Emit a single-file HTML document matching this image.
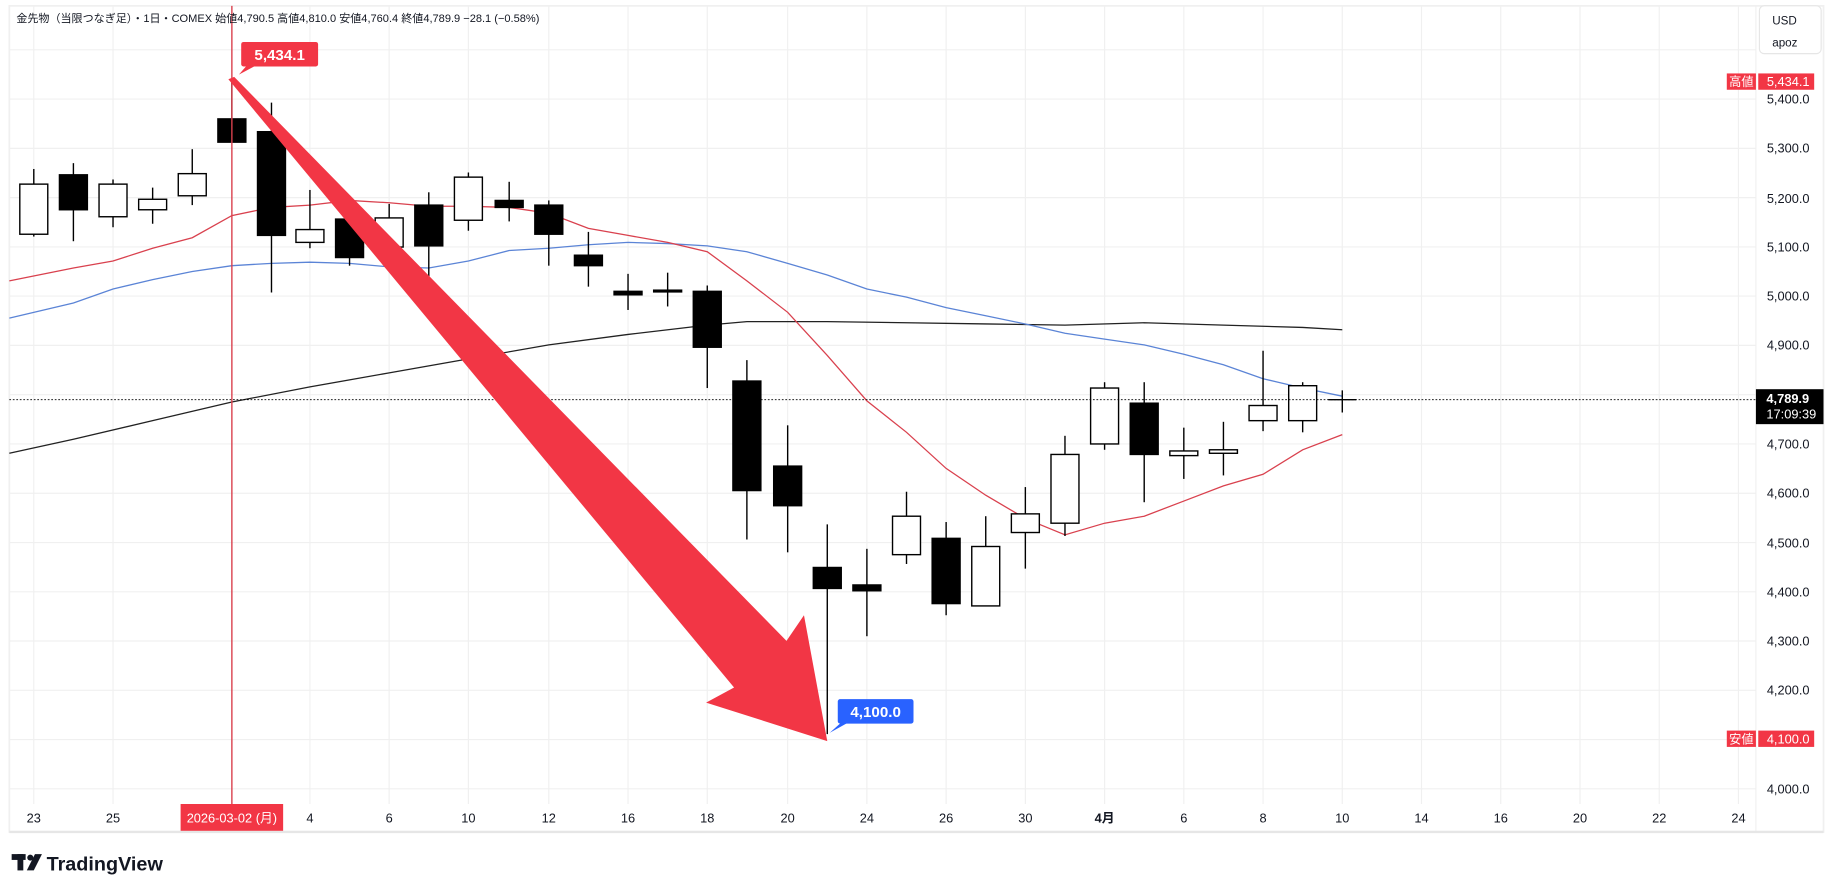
<!DOCTYPE html>
<html><head><meta charset="utf-8"><style>
html,body{margin:0;padding:0;background:#fff;width:1827px;height:892px;overflow:hidden}
svg{display:block}
text{font-family:"Liberation Sans","Noto Sans CJK JP",sans-serif}
</style></head><body>
<svg width="1827" height="892" viewBox="0 0 1568 765.5" xmlns="http://www.w3.org/2000/svg">
<rect x="0" y="0" width="1568" height="766" fill="#fff"/>
<rect x="8" y="5" width="1557" height="709" fill="none" stroke="#f0f0f0" stroke-width="1.5"/>
<g stroke="#f0f0f0" stroke-width="1">
<line x1="8" x2="1507" y1="42.7" y2="42.7"/><line x1="8" x2="1507" y1="85" y2="85"/><line x1="8" x2="1507" y1="127.3" y2="127.3"/><line x1="8" x2="1507" y1="169.6" y2="169.6"/><line x1="8" x2="1507" y1="211.9" y2="211.9"/><line x1="8" x2="1507" y1="254.1" y2="254.1"/><line x1="8" x2="1507" y1="296.4" y2="296.4"/><line x1="8" x2="1507" y1="338.7" y2="338.7"/><line x1="8" x2="1507" y1="381" y2="381"/><line x1="8" x2="1507" y1="423.3" y2="423.3"/><line x1="8" x2="1507" y1="465.6" y2="465.6"/><line x1="8" x2="1507" y1="507.9" y2="507.9"/><line x1="8" x2="1507" y1="550.1" y2="550.1"/><line x1="8" x2="1507" y1="592.4" y2="592.4"/><line x1="8" x2="1507" y1="634.7" y2="634.7"/><line x1="8" x2="1507" y1="677" y2="677"/>
<line y1="5" y2="690" x1="29" x2="29"/><line y1="5" y2="690" x1="97" x2="97"/><line y1="5" y2="690" x1="266" x2="266"/><line y1="5" y2="690" x1="334" x2="334"/><line y1="5" y2="690" x1="402" x2="402"/><line y1="5" y2="690" x1="471" x2="471"/><line y1="5" y2="690" x1="539" x2="539"/><line y1="5" y2="690" x1="607" x2="607"/><line y1="5" y2="690" x1="676" x2="676"/><line y1="5" y2="690" x1="744" x2="744"/><line y1="5" y2="690" x1="812" x2="812"/><line y1="5" y2="690" x1="880" x2="880"/><line y1="5" y2="690" x1="948" x2="948"/><line y1="5" y2="690" x1="1016" x2="1016"/><line y1="5" y2="690" x1="1084" x2="1084"/><line y1="5" y2="690" x1="1152" x2="1152"/><line y1="5" y2="690" x1="1220" x2="1220"/><line y1="5" y2="690" x1="1288" x2="1288"/><line y1="5" y2="690" x1="1356" x2="1356"/><line y1="5" y2="690" x1="1424" x2="1424"/><line y1="5" y2="690" x1="1492" x2="1492"/>
<line x1="1507" x2="1507" y1="5" y2="714"/>
</g>
<polyline fill="none" stroke="#222" stroke-width="1.1" points="8,389 63,377 131,361 199,345 266,332 334,320 402,308 471,296 539,287 607,279 641,276 710,276 778,277 846,278 914,279 982,277 1050,279 1118,281 1152,283"/>
<polyline fill="none" stroke="#5b84d6" stroke-width="1.1" points="8,273 63,260 97,248 131,240 165,233 199,228 233,226 266,225 300,226 334,229 368,230 402,224 437,215 471,213 505,210 539,208 573,209 607,211 641,216 676,226 710,236 744,248 778,255 812,264 846,271 880,278 914,286 948,291 982,296 1016,304 1050,313 1084,325 1118,333 1152,340"/>
<polyline fill="none" stroke="#d9414e" stroke-width="1.1" points="8,241 63,230 97,224 131,213 165,204 199,185 233,178 266,176 300,172 334,174 368,177 402,177 437,178 471,183 505,196 539,202 573,208 607,216 641,241 676,268 710,305 744,344 778,371 812,402 846,425 880,445 914,459 948,449 982,443 1016,430 1050,417 1084,407 1118,386 1152,373"/>
<g stroke="#000" stroke-width="1.2">
<line x1="29" x2="29" y1="145" y2="203"/><rect x="17" y="158" width="24" height="43" fill="#fff"/>
<line x1="63" x2="63" y1="140" y2="207"/><rect x="51" y="150" width="24" height="30" fill="#000"/>
<line x1="97" x2="97" y1="154" y2="195"/><rect x="85" y="158" width="24" height="28" fill="#fff"/>
<line x1="131" x2="131" y1="161" y2="192"/><rect x="119" y="171" width="24" height="9" fill="#fff"/>
<line x1="165" x2="165" y1="128" y2="176"/><rect x="153" y="149" width="24" height="19" fill="#fff"/>
<line x1="199" x2="199" y1="70" y2="122"/><rect x="187" y="102" width="24" height="20" fill="#000"/>
<line x1="233" x2="233" y1="88" y2="251"/><rect x="221" y="113" width="24" height="89" fill="#000"/>
<line x1="266" x2="266" y1="163" y2="213"/><rect x="254" y="197" width="24" height="11" fill="#fff"/>
<line x1="300" x2="300" y1="168" y2="228"/><rect x="288" y="188" width="24" height="33" fill="#000"/>
<line x1="334" x2="334" y1="175" y2="215"/><rect x="322" y="187" width="24" height="25" fill="#fff"/>
<line x1="368" x2="368" y1="165" y2="238"/><rect x="356" y="176" width="24" height="35" fill="#000"/>
<line x1="402" x2="402" y1="148" y2="198"/><rect x="390" y="152" width="24" height="37" fill="#fff"/>
<line x1="437" x2="437" y1="156" y2="190"/><rect x="425" y="172" width="24" height="6" fill="#000"/>
<line x1="471" x2="471" y1="172" y2="228"/><rect x="459" y="176" width="24" height="25" fill="#000"/>
<line x1="505" x2="505" y1="199" y2="246"/><rect x="493" y="219" width="24" height="9" fill="#000"/>
<line x1="539" x2="539" y1="235" y2="266"/><rect x="527" y="250" width="24" height="3" fill="#000"/>
<line x1="573" x2="573" y1="234" y2="263"/><rect x="561" y="249" width="24" height="1.5" fill="#000"/>
<line x1="607" x2="607" y1="245" y2="333"/><rect x="595" y="250" width="24" height="48" fill="#000"/>
<line x1="641" x2="641" y1="309" y2="463"/><rect x="629" y="327" width="24" height="94" fill="#000"/>
<line x1="676" x2="676" y1="365" y2="474"/><rect x="664" y="400" width="24" height="34" fill="#000"/>
<line x1="710" x2="710" y1="450" y2="630"/><rect x="698" y="487" width="24" height="18" fill="#000"/>
<line x1="744" x2="744" y1="471" y2="546"/><rect x="732" y="502" width="24" height="5" fill="#000"/>
<line x1="778" x2="778" y1="422" y2="484"/><rect x="766" y="443" width="24" height="33" fill="#fff"/>
<line x1="812" x2="812" y1="448" y2="528"/><rect x="800" y="462" width="24" height="56" fill="#000"/>
<line x1="846" x2="846" y1="443" y2="520"/><rect x="834" y="469" width="24" height="51" fill="#fff"/>
<line x1="880" x2="880" y1="418" y2="488"/><rect x="868" y="441" width="24" height="16" fill="#fff"/>
<line x1="914" x2="914" y1="374" y2="460"/><rect x="902" y="390" width="24" height="59" fill="#fff"/>
<line x1="948" x2="948" y1="328" y2="386"/><rect x="936" y="333" width="24" height="48" fill="#fff"/>
<line x1="982" x2="982" y1="328" y2="431"/><rect x="970" y="346" width="24" height="44" fill="#000"/>
<line x1="1016" x2="1016" y1="367" y2="411"/><rect x="1004" y="387" width="24" height="4" fill="#fff"/>
<line x1="1050" x2="1050" y1="362" y2="408"/><rect x="1038" y="386" width="24" height="3" fill="#fff"/>
<line x1="1084" x2="1084" y1="301" y2="370"/><rect x="1072" y="348" width="24" height="13" fill="#fff"/>
<line x1="1118" x2="1118" y1="328" y2="371"/><rect x="1106" y="331" width="24" height="30" fill="#fff"/>
<line x1="1152" x2="1152" y1="335" y2="354"/><line x1="1140" x2="1164" y1="343" y2="343"/>
</g>
<line x1="8" x2="1507" y1="343" y2="343" stroke="#000" stroke-width="0.8" stroke-dasharray="1.5,1.5"/>
<line x1="199" x2="199" y1="5" y2="690" stroke="#d9414e" stroke-width="1.2"/>
<polygon fill="#f23645" points="196,68 201,66 675,550 690,528 710,636 606,603 630,590"/>
<rect x="207" y="36" width="66" height="21" rx="2" fill="#f23645"/>
<polygon points="212,56 220,56 205,64" fill="#f23645"/>
<text x="240" y="51.5" font-size="13" font-weight="bold" fill="#fff" text-anchor="middle">5,434.1</text>
<rect x="719" y="600" width="65" height="21" rx="2" fill="#2962ff"/>
<polygon points="722,620 728,620 712,629" fill="#2962ff"/>
<text x="751.5" y="615.5" font-size="13" font-weight="bold" fill="#fff" text-anchor="middle">4,100.0</text>
<text x="14" y="19" font-size="9.5" fill="#131722">金先物（当限つなぎ足）・1日・COMEX  始値4,790.5  高値4,810.0  安値4,760.4  終値4,789.9  −28.1 (−0.58%)</text>
<g font-size="11" fill="#131722" text-anchor="end">
<text x="1553" y="89">5,400.0</text><text x="1553" y="131">5,300.0</text><text x="1553" y="174">5,200.0</text><text x="1553" y="216">5,100.0</text><text x="1553" y="258">5,000.0</text><text x="1553" y="300">4,900.0</text><text x="1553" y="385">4,700.0</text><text x="1553" y="427">4,600.0</text><text x="1553" y="470">4,500.0</text><text x="1553" y="512">4,400.0</text><text x="1553" y="554">4,300.0</text><text x="1553" y="596">4,200.0</text><text x="1553" y="681">4,000.0</text>
</g>
<rect x="1510" y="5" width="53" height="41" rx="4" fill="#fff" stroke="#e6e6e6"/>
<text x="1521" y="21" font-size="10" fill="#131722">USD</text>
<text x="1521" y="40" font-size="10" fill="#131722">apoz</text>
<rect x="1482" y="63" width="25" height="14" fill="#f23645"/><text x="1494.5" y="74" font-size="10.5" fill="#fff" text-anchor="middle">高値</text>
<rect x="1509" y="63" width="48" height="14" fill="#f23645"/><text x="1553" y="74" font-size="11" fill="#fff" text-anchor="end">5,434.1</text>
<rect x="1482" y="627" width="25" height="14" fill="#f23645"/><text x="1494.5" y="638" font-size="10.5" fill="#fff" text-anchor="middle">安値</text>
<rect x="1509" y="627" width="48" height="14" fill="#f23645"/><text x="1553" y="638" font-size="11" fill="#fff" text-anchor="end">4,100.0</text>
<rect x="1507" y="334" width="58" height="30" fill="#000"/>
<text x="1516" y="346" font-size="11" font-weight="bold" fill="#fff">4,789.9</text>
<text x="1516" y="359" font-size="11" fill="#fff">17:09:39</text>
<line x1="8" x2="1565" y1="714" y2="714" stroke="#e6e6e6" stroke-width="2"/>
<g font-size="11" fill="#131722" text-anchor="middle">
<text x="29" y="706">23</text><text x="97" y="706">25</text><text x="266" y="706">4</text><text x="334" y="706">6</text><text x="402" y="706">10</text><text x="471" y="706">12</text><text x="539" y="706">16</text><text x="607" y="706">18</text><text x="676" y="706">20</text><text x="744" y="706">24</text><text x="812" y="706">26</text><text x="880" y="706">30</text><text x="948" y="706" font-weight="bold">4月</text><text x="1016" y="706">6</text><text x="1084" y="706">8</text><text x="1152" y="706">10</text><text x="1220" y="706">14</text><text x="1288" y="706">16</text><text x="1356" y="706">20</text><text x="1424" y="706">22</text><text x="1492" y="706">24</text>
</g>
<rect x="155" y="690" width="88" height="23" fill="#f23645"/>
<text x="199" y="706" font-size="11" fill="#fff" text-anchor="middle">2026-03-02 (月)</text>
<g fill="#131722"><rect x="10" y="733" width="12" height="5"/><rect x="15" y="733" width="5" height="14"/><circle cx="26" cy="736" r="2.6"/><polygon points="30,733 36,733 29,747 23,747"/></g>
<text x="40" y="747" font-size="17" font-weight="bold" fill="#131722">TradingView</text>
</svg>
</body></html>
